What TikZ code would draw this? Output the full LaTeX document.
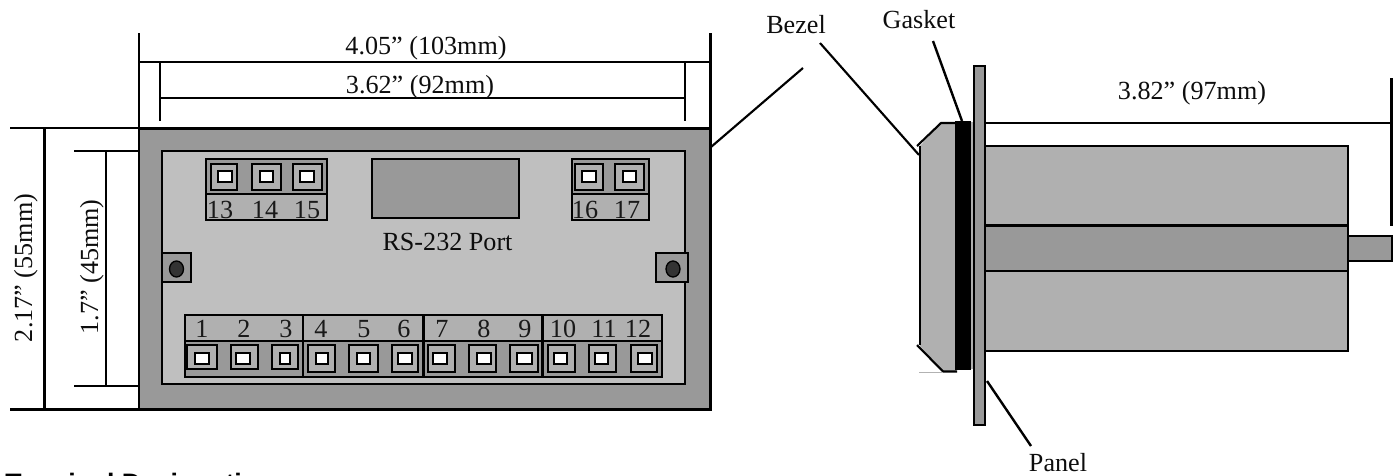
\documentclass[tikz,border=0pt]{standalone}
\usepackage{fontspec}
\setmainfont{Liberation Serif}
\newfontfamily\boldsans{Liberation Sans}
\definecolor{gD}{gray}{0.6}
\definecolor{gM}{gray}{0.69}
\definecolor{gL}{gray}{0.75}
\tikzset{
 x=0.75pt,y=-0.75pt,
 ln/.style={line width=1.6pt,draw=black},
 thinln/.style={line width=1.5pt,draw=black},
 boxln/.style={line width=1.5pt,draw=black},
 lab/.style={font=\fontsize{19.6pt}{22pt}\selectfont,inner sep=0pt,anchor=base,text=black!95},
 num/.style={font=\fontsize{19.6pt}{22pt}\selectfont,inner sep=0pt,anchor=base,text=black!90},
 screw/.style={fill=black!80,draw=black,line width=1pt},
}
\newcommand{\termbox}[8]{% outer l r t b, inner l r t b
 \draw[line width=1.8pt,fill=gM] (#1,#3) rectangle (#2,#4);
 \draw[line width=1.8pt,fill=white] (#5,#7) rectangle (#6,#8);
}
\begin{document}
\begin{tikzpicture}
\useasboundingbox (0,0) rectangle (1395,475);
% front body
\draw[ln,fill=gD] (139,128.5) rectangle (710.5,409.5);
\draw[ln,fill=gL] (162,151) rectangle (685,384);
% dimension lines
\draw[ln] (139,33)--(139,129);
\draw[ln] (710.5,33)--(710.5,129);
\draw[thinln] (139,61.5)--(710,61.5);
\draw[ln] (160,62)--(160,121);
\draw[ln] (685,62)--(685,121);
\draw[thinln] (160,97.5)--(685,97.5);
\draw[ln] (10,128)--(139,128);
\draw[ln] (10,409.5)--(139,409.5);
\draw[ln] (44.5,128)--(44.5,409);
\draw[thinln] (74,151)--(139,151);
\draw[thinln] (74,386)--(139,386);
\draw[ln] (106,151)--(106,386);
\node[lab] (dimA) at (426,54) {4.05” (103mm)};
\node[lab] (dimB) at (420,93) {3.62” (92mm)};
\node[lab,rotate=90] (dimC) at (32,268) {2.17” (55mm)};
\node[lab,rotate=90] (dimD) at (98,267) {1.7” (45mm)};
% top-left terminal block
\draw[boxln,fill=gD] (205.5,158.5) rectangle (327,194);
\draw[boxln,fill=gM] (205.5,194) rectangle (327,220);
\termbox{211}{237}{164}{190}{218}{232}{171}{182}
\termbox{252}{281}{164}{190}{260}{273}{171}{182}
\termbox{293}{322}{164}{190}{300}{314}{171}{182}
\node[num] at (220,218) {13};
\node[num] at (265,218) {14};
\node[num] at (307,218) {15};
% top-right block
\draw[boxln,fill=gD] (572,158.5) rectangle (649,194);
\draw[boxln,fill=gM] (572,194) rectangle (649,220);
\termbox{575}{603}{164}{190}{582}{596}{171}{182}
\termbox{615}{644}{164}{190}{623}{636}{171}{182}
\node[num] at (585,218) {16};
\node[num] at (627,218) {17};
% RS-232
\draw[ln,fill=gD] (372,159) rectangle (519,218);
\node[lab] (rs) at (447.5,250) {RS-232 Port};
% screws
\draw[ln,fill=gD] (162,253) rectangle (191,282);
\draw[screw] (176.5,269) ellipse (7 and 8);
\draw[ln,fill=gD] (656,253) rectangle (688,282);
\draw[screw] (673,269) ellipse (7 and 8);
% bottom terminal block
\draw[boxln,fill=gD] (185,341) rectangle (662,377);
\draw[boxln,fill=gM] (185,314.5) rectangle (662,341);
\draw[ln] (303,314)--(303,377);
\draw[ln] (423.5,314)--(423.5,377);
\draw[line width=2.2pt] (542.5,314)--(542.5,377);
\termbox{187}{217}{345}{369}{195}{209}{353}{364}
\termbox{231}{258}{345}{369}{236}{250}{353}{364}
\termbox{272}{298}{345}{369}{280}{290}{353}{364}
\termbox{308}{335}{345}{372}{316}{328}{353}{364}
\termbox{349}{378}{345}{372}{357}{370}{353}{364}
\termbox{392}{418}{345}{372}{398}{412}{353}{364}
\termbox{428}{455}{345}{372}{433}{447}{353}{364}
\termbox{469}{496}{345}{372}{477}{491}{353}{364}
\termbox{510}{538}{345}{372}{517}{532}{353}{364}
\termbox{548}{575}{345}{372}{554}{567}{353}{364}
\termbox{589}{616}{345}{372}{595}{608}{353}{364}
\termbox{631}{657}{345}{372}{638}{652}{353}{364}
\foreach \c/\t in {202/1,244/2,286/3,321/4,364/5,404/6,442/7,484/8,525/9,563/10,604/11,638/12}{
 \node[num] at (\c,337) {\t};
}
% side view
\draw[ln,fill=gM] (985,146) rectangle (1348,351);
\draw[ln,fill=gD] (985,225.5) rectangle (1348,271);
\draw[ln,fill=gD] (1348,236) rectangle (1392,261);
\draw[ln] (985,123)--(1391,123);
\draw[ln] (1391.5,78)--(1391.5,226);
% bezel
\fill[gM] (920,146)--(941,123)--(956,123)--(956,371)--(943,371)--(920,346)--cycle;
\draw[ln] (917,146)--(941,123)--(956,123);
\draw[ln] (920,146)--(920,345);
\draw[ln] (917,345)--(943,371.5)--(957,371.5);
\draw[black!30,line width=.5pt] (919,372.5)--(943,372.5);
% gasket and panel
\fill[gM] (971,122) rectangle (974,369);
\fill[black] (955,121) rectangle (971,370);
\draw[ln,fill=gD] (974,66) rectangle (985,425);
% leaders
\node[lab] (bz) at (796,33) {Bezel};
\node[lab] (gk) at (919,28) {Gasket};
\node[lab] (pn) at (1058,471) {Panel};
\node[lab] (dimE) at (1192,99) {3.82” (97mm)};
\draw[ln] (803,68)--(711,147);
\draw[ln] (820,43)--(919,155);
\draw[line width=1.8pt] (933,41)--(962,121);
\draw[line width=1.8pt] (987,381)--(1031,446);
\node[font=\boldsans\bfseries\fontsize{20pt}{22pt}\selectfont,inner sep=0pt,anchor=base west] (td) at (5,492) {Terminal Designations};
\end{tikzpicture}
\end{document}
